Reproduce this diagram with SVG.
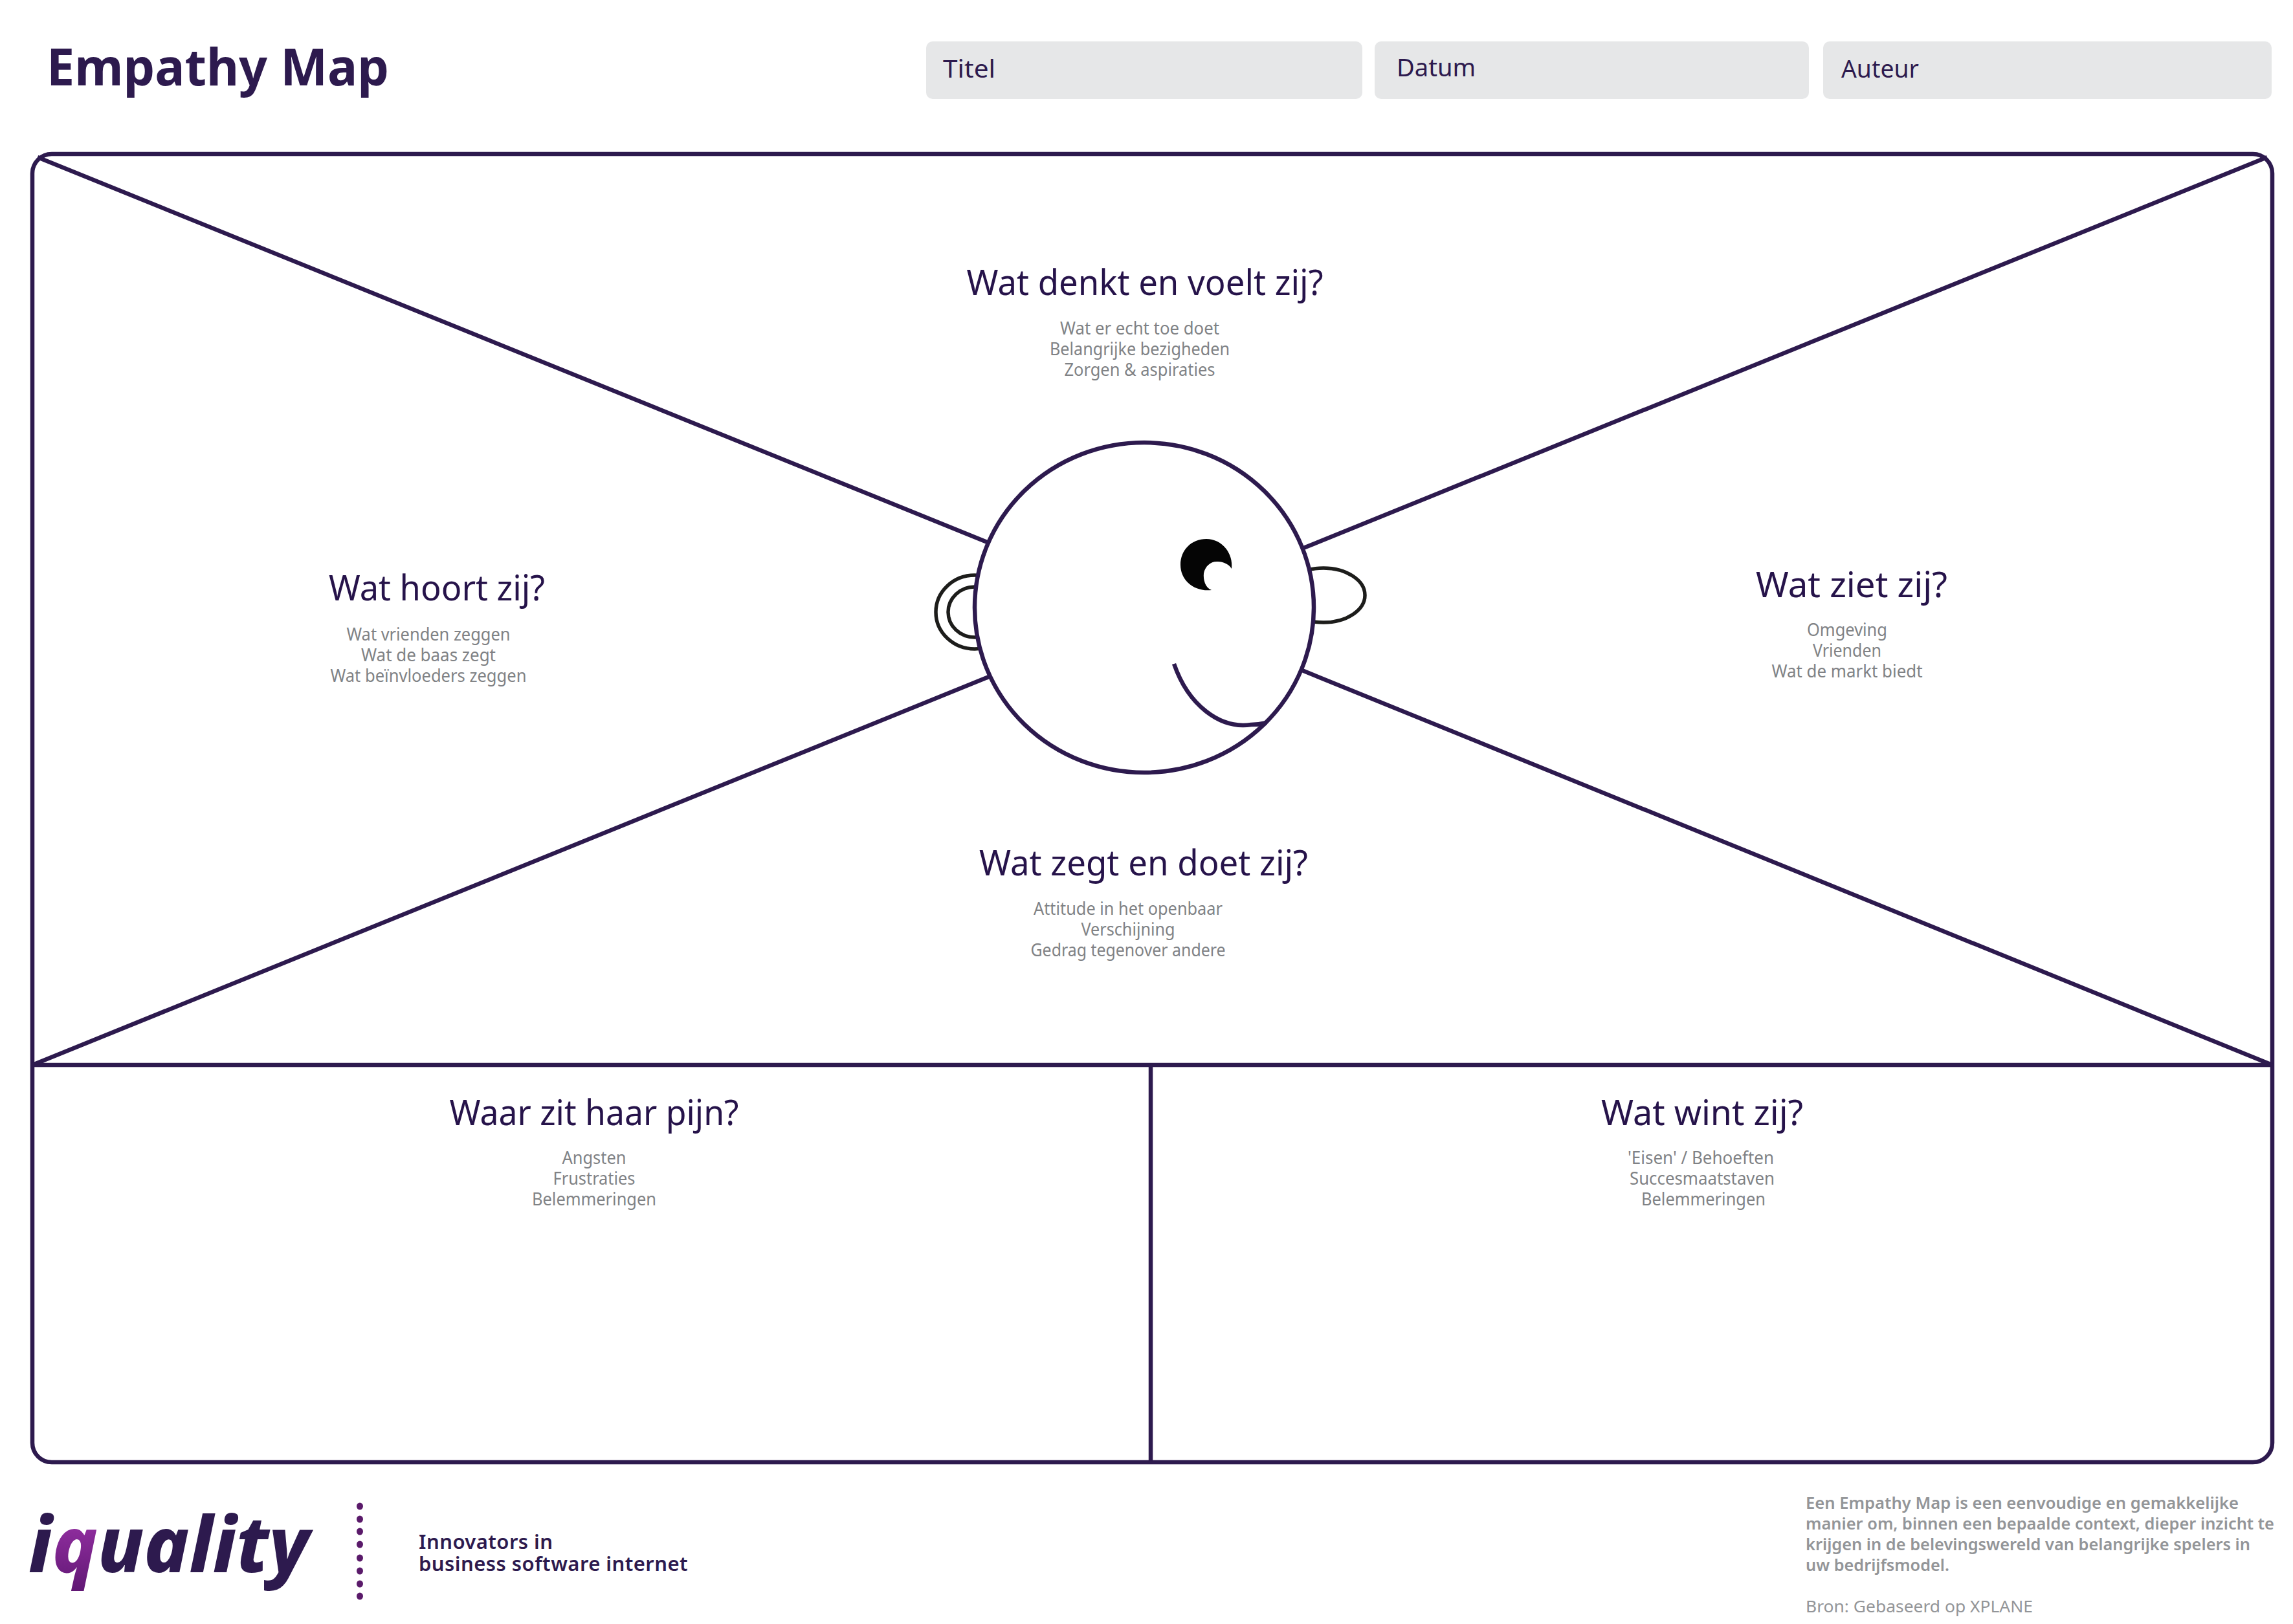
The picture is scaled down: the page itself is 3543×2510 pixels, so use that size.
<svg xmlns="http://www.w3.org/2000/svg" width="3543" height="2510" viewBox="0 0 3543 2510">
<style>
text{font-family:"Noto Sans","Open Sans","Liberation Sans",sans-serif;fill:#2d1a4e}
.h{font-size:54px;text-anchor:middle;fill:#26134a}
.s{font-size:27px;text-anchor:middle;fill:#808285}
.f{font-size:38px}
.n{font-size:31px;font-weight:600;letter-spacing:.45px}
.d{font-size:26px;font-weight:600;fill:#939598}
.l{fill:none;stroke:#2d1a4e;stroke-width:6.5}
.e{fill:none;stroke:#1d1d1b;stroke-width:5.5}
.dot{fill:#5a1a6a}
.box{fill:#e6e7e8}
</style>
<defs>
<linearGradient id="qg" x1="0" y1="0" x2="0" y2="1"><stop offset="0" stop-color="#a93ab5"/><stop offset="1" stop-color="#5e1672"/></linearGradient>
</defs>
<rect width="3543" height="2510" fill="#fff"/>
<g id="header">
<text x="72" y="132" font-size="78" font-weight="700" textLength="529" lengthAdjust="spacingAndGlyphs">Empathy Map</text>
</g>
<g id="field-titel"><rect class="box" x="1431" y="64" width="674" height="89" rx="10"/><text class="f" x="1457" y="120" textLength="81" lengthAdjust="spacingAndGlyphs">Titel</text></g>
<g id="field-datum"><rect class="box" x="2124" y="64" width="671" height="89" rx="10"/><text class="f" x="2158" y="118" textLength="122" lengthAdjust="spacingAndGlyphs">Datum</text></g>
<g id="field-auteur"><rect class="box" x="2817" y="64" width="693" height="89" rx="10"/><text class="f" x="2845" y="120" textLength="120" lengthAdjust="spacingAndGlyphs">Auteur</text></g>
<g id="connectors">
<rect class="l" x="50" y="238" width="3461" height="2022" rx="30"/>
<path class="l" d="M58 243L1528 839M3503 243L2014 847M50 1646L1528 1046M3511 1646L2012 1036M50 1646H3511M1778 1646V2260"/>
</g>
<g id="head">
<ellipse class="e" cx="1506" cy="946" rx="60" ry="57"/>
<ellipse class="e" cx="1506" cy="946" rx="41" ry="39"/>
<ellipse class="e" cx="2045" cy="920" rx="64" ry="42"/>
<ellipse cx="1768" cy="939" rx="262" ry="255" fill="#fff" stroke="#2d1a4e" stroke-width="6.5"/>
<path fill="#050505" d="M1903 879C1906 855 1888 833 1864 833C1841 833 1824 850 1824 873C1824 897 1845 915 1872 912C1862 908 1859 896 1860 886C1862 875 1871 867 1882 868C1890 868 1899 872 1903 879Z"/>
<path class="l" d="M1814 1026C1836 1090 1885 1127 1933 1120Q1945 1120 1957 1117"/>
</g>
<g id="quadrant-denkt">
<text class="h" x="1769" y="456" textLength="551" lengthAdjust="spacingAndGlyphs">Wat denkt en voelt zij?</text>
<text class="s" x="1761" y="517" textLength="246" lengthAdjust="spacingAndGlyphs">Wat er echt toe doet</text>
<text class="s" x="1761" y="549" textLength="278" lengthAdjust="spacingAndGlyphs">Belangrijke bezigheden</text>
<text class="s" x="1761" y="581" textLength="233" lengthAdjust="spacingAndGlyphs">Zorgen &amp; aspiraties</text>
</g>
<g id="quadrant-hoort">
<text class="h" x="675" y="928" textLength="334" lengthAdjust="spacingAndGlyphs">Wat hoort zij?</text>
<text class="s" x="662" y="990" textLength="253" lengthAdjust="spacingAndGlyphs">Wat vrienden zeggen</text>
<text class="s" x="662" y="1022" textLength="208" lengthAdjust="spacingAndGlyphs">Wat de baas zegt</text>
<text class="s" x="662" y="1054" textLength="303" lengthAdjust="spacingAndGlyphs">Wat beïnvloeders zeggen</text>
</g>
<g id="quadrant-ziet">
<text class="h" x="2861" y="923" textLength="296" lengthAdjust="spacingAndGlyphs">Wat ziet zij?</text>
<text class="s" x="2854" y="983" textLength="124" lengthAdjust="spacingAndGlyphs">Omgeving</text>
<text class="s" x="2854" y="1015" textLength="106" lengthAdjust="spacingAndGlyphs">Vrienden</text>
<text class="s" x="2854" y="1047" textLength="233" lengthAdjust="spacingAndGlyphs">Wat de markt biedt</text>
</g>
<g id="quadrant-zegt">
<text class="h" x="1767" y="1353" textLength="508" lengthAdjust="spacingAndGlyphs">Wat zegt en doet zij?</text>
<text class="s" x="1743" y="1414" textLength="292" lengthAdjust="spacingAndGlyphs">Attitude in het openbaar</text>
<text class="s" x="1743" y="1446" textLength="145" lengthAdjust="spacingAndGlyphs">Verschijning</text>
<text class="s" x="1743" y="1478" textLength="301" lengthAdjust="spacingAndGlyphs">Gedrag tegenover andere</text>
</g>
<g id="quadrant-pijn">
<text class="h" x="918" y="1739" textLength="447" lengthAdjust="spacingAndGlyphs">Waar zit haar pijn?</text>
<text class="s" x="918" y="1799" textLength="99" lengthAdjust="spacingAndGlyphs">Angsten</text>
<text class="s" x="918" y="1831" textLength="127" lengthAdjust="spacingAndGlyphs">Frustraties</text>
<text class="s" x="918" y="1863" textLength="192" lengthAdjust="spacingAndGlyphs">Belemmeringen</text>
</g>
<g id="quadrant-wint">
<text class="h" x="2630" y="1739" textLength="312" lengthAdjust="spacingAndGlyphs">Wat wint zij?</text>
<text class="s" x="2628" y="1799" textLength="226" lengthAdjust="spacingAndGlyphs">'Eisen' / Behoeften</text>
<text class="s" x="2630" y="1831" textLength="224" lengthAdjust="spacingAndGlyphs">Succesmaatstaven</text>
<text class="s" x="2632" y="1863" textLength="192" lengthAdjust="spacingAndGlyphs">Belemmeringen</text>
</g>
<g id="logo">
<text x="44" y="2430" font-size="120" font-weight="800" font-style="italic" textLength="434" lengthAdjust="spacingAndGlyphs">i<tspan fill="url(#qg)">q</tspan>uality</text>
<g class="dot"><ellipse cx="556" cy="2328" rx="5" ry="5.5"/><ellipse cx="556" cy="2348" rx="5" ry="5.5"/><ellipse cx="556" cy="2367" rx="5" ry="5.5"/><ellipse cx="556" cy="2387" rx="5" ry="5.5"/><ellipse cx="556" cy="2408" rx="5" ry="5.5"/><ellipse cx="556" cy="2428" rx="5" ry="5.5"/><ellipse cx="556" cy="2448" rx="5" ry="5.5"/><ellipse cx="556" cy="2467" rx="5" ry="5.5"/></g>
<text class="n"><tspan x="647" y="2394">Innovators in</tspan><tspan x="647" y="2428">business software internet</tspan></text>
</g>
<g id="description">
<text class="d" x="2790" y="2332" textLength="669" lengthAdjust="spacingAndGlyphs">Een Empathy Map is een eenvoudige en gemakkelijke</text>
<text class="d" x="2790" y="2364" textLength="724" lengthAdjust="spacingAndGlyphs">manier om, binnen een bepaalde context, dieper inzicht te</text>
<text class="d" x="2790" y="2396" textLength="687" lengthAdjust="spacingAndGlyphs">krijgen in de belevingswereld van belangrijke spelers in</text>
<text class="d" x="2790" y="2428" textLength="222" lengthAdjust="spacingAndGlyphs">uw bedrijfsmodel.</text>
<text class="d" style="font-weight:400" x="2790" y="2492" textLength="351" lengthAdjust="spacingAndGlyphs">Bron: Gebaseerd op XPLANE</text>
</g>
</svg>
